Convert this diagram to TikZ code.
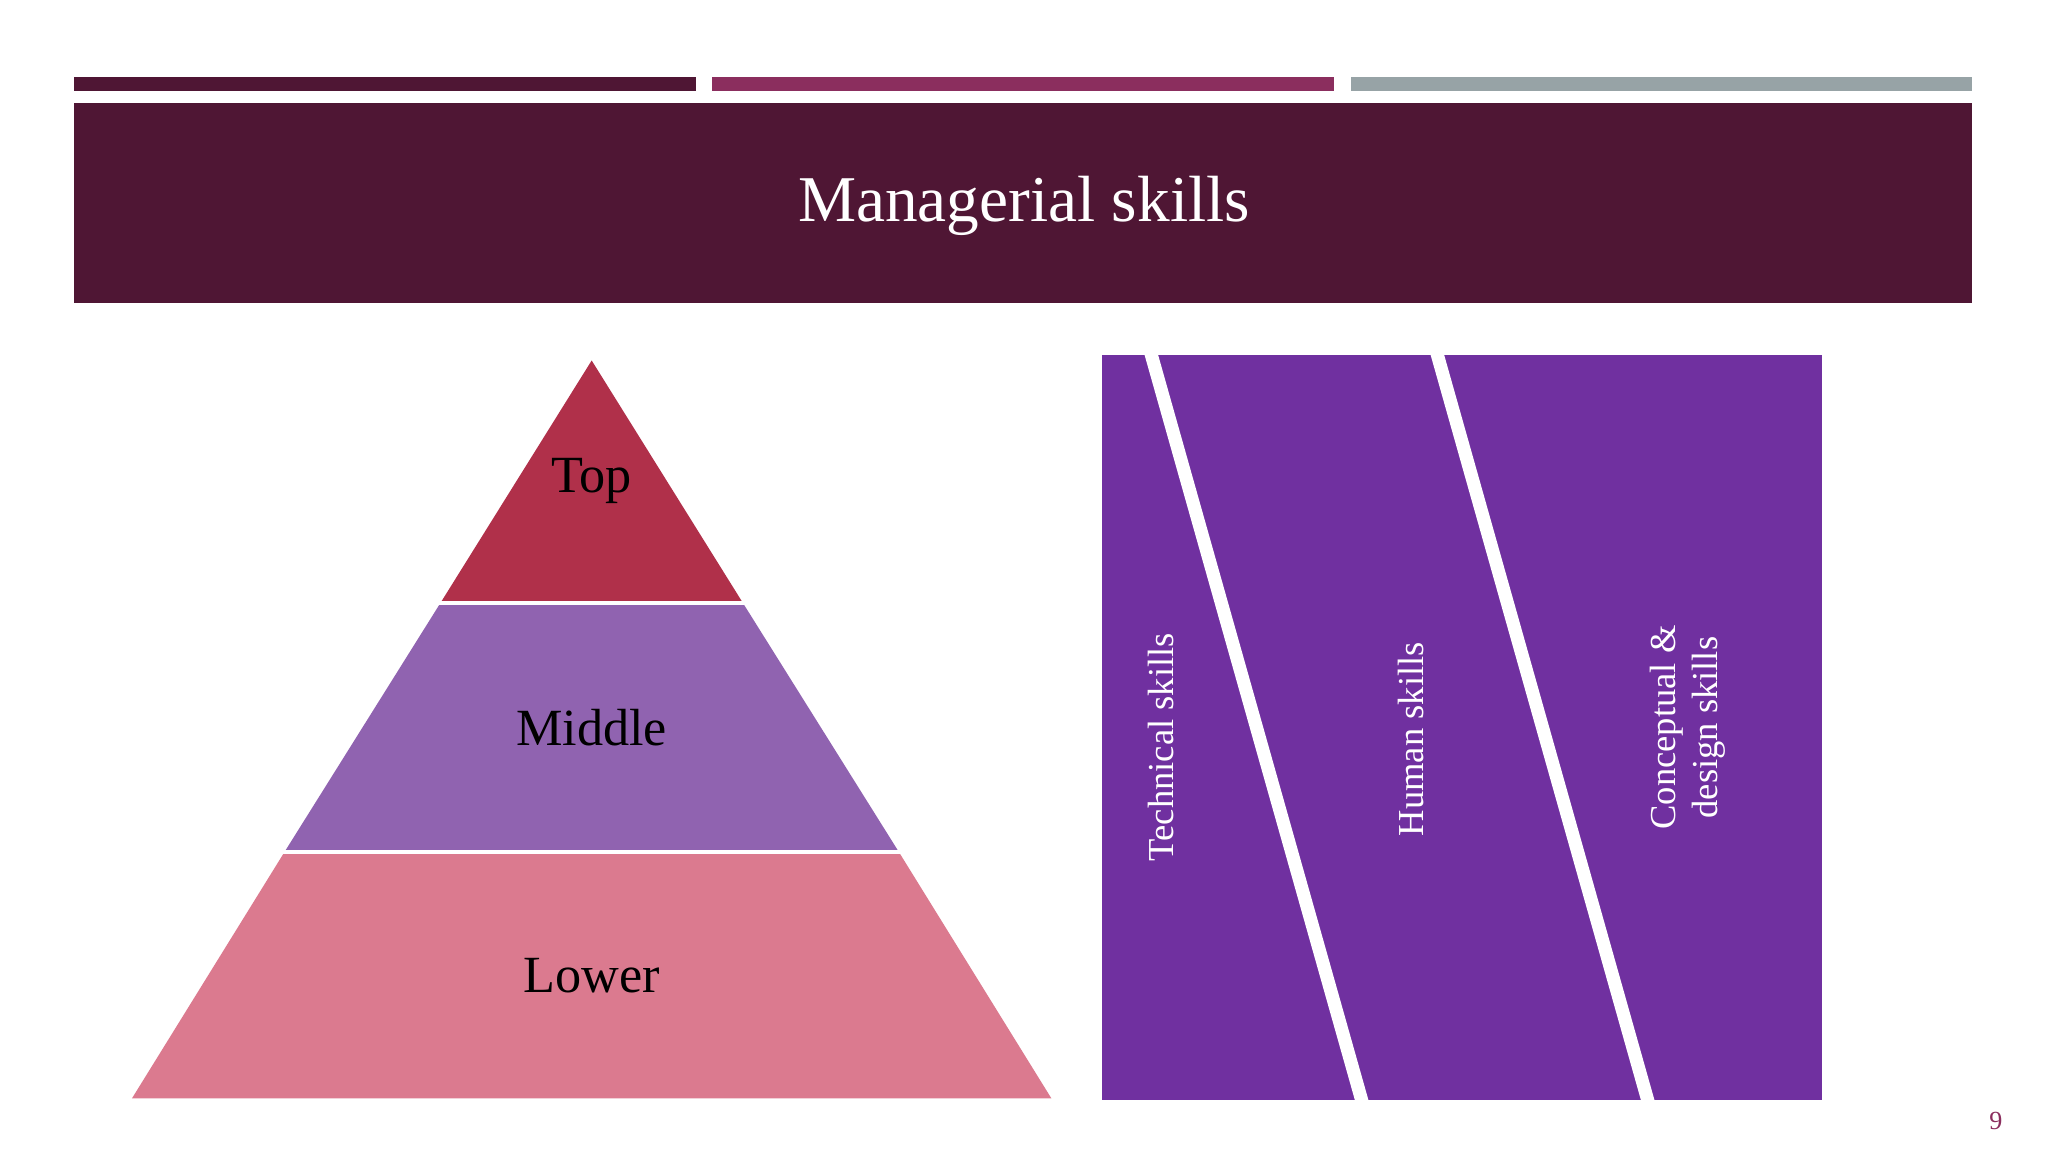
\documentclass[tikz,border=0pt]{standalone}
\usepackage{fontspec}
\setmainfont{Liberation Serif}
\definecolor{plum}{HTML}{4F1634}
\definecolor{berry}{HTML}{8B2E5E}
\definecolor{greyb}{HTML}{97A3A6}
\definecolor{ctop}{HTML}{B0304A}
\definecolor{cmid}{HTML}{9063B0}
\definecolor{clow}{HTML}{DB7A8F}
\definecolor{vio}{HTML}{7030A0}
\begin{document}
\begin{tikzpicture}[x=0.5pt,y=-0.5pt,
  lvl/.style={font=\fontsize{20}{24}\selectfont,text=black},
  skill/.style={font=\fontsize{14}{16}\selectfont,text=white,rotate=90,align=center}]
\useasboundingbox (0,0) rectangle (1568,882);
\fill[white] (0,0) rectangle (1568,882);
\fill[plum] (57,59) rectangle (533,70);
\fill[berry] (545,59) rectangle (1021,70);
\fill[greyb] (1034,59) rectangle (1510,70);
\fill[plum] (57,79) rectangle (1510,232);
\node[text=white,font=\fontsize{25}{30}\selectfont] (title) at (784,158) {Managerial skills};
% pyramid
\fill[ctop] (453,276) -- (569,462) -- (337,462) -- cycle;
\fill[cmid] (337,462) -- (569,462) -- (688,652) -- (218,652) -- cycle;
\fill[clow] (218,652) -- (688,652) -- (805,841) -- (101,841) -- cycle;
\draw[white,line width=1.5pt] (330,462) -- (576,462) (210,652) -- (696,652);
\node[lvl] (top) at (453,368) {Top};
\node[lvl] (mid) at (453,557) {Middle};
\node[lvl] (low) at (453,747) {Lower};
% skills
\fill[vio] (844,272) rectangle (1395,842);
\draw[white,line width=5pt] (881,270) -- (1043,844) (1100,270) -- (1262,844);
\node[skill] (tech) at (889,572) {Technical skills};
\node[skill] (hum) at (1080,566) {Human skills};
\node[skill] (conc) at (1292,557) {Conceptual \&\\design skills};
\node[text=berry,font=\fontsize{10}{12}\selectfont] (pg) at (1528,858) {9};
\end{tikzpicture}
\end{document}
